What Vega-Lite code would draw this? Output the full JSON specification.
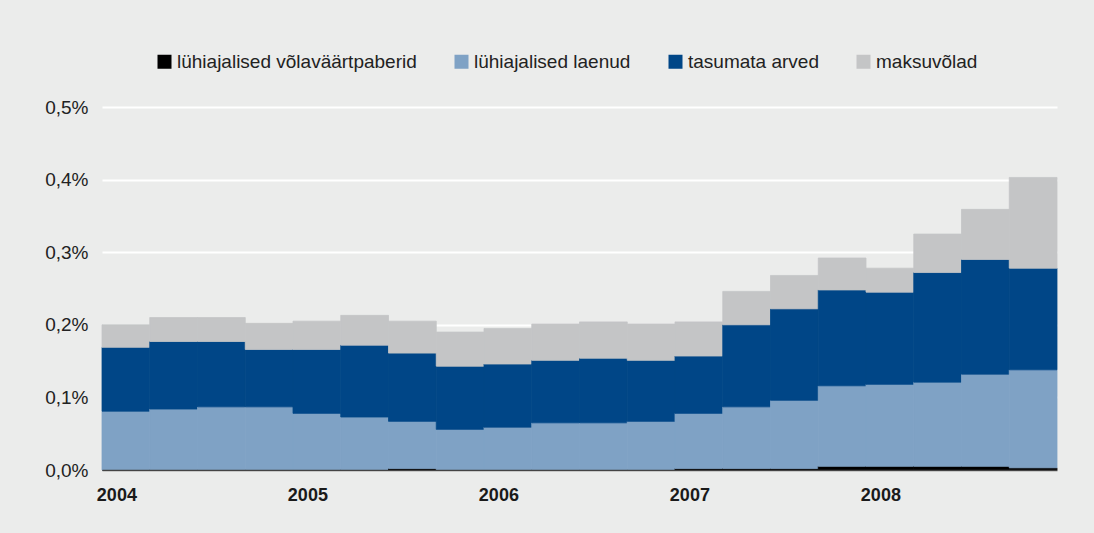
{
  "$schema": "https://vega.github.io/schema/vega-lite/v6.json",
  "width": 955,
  "height": 363,
  "autosize": {"type": "none"},
  "padding": {"left": 102, "top": 107, "right": 37, "bottom": 63},
  "background": "#ebeceb",
  "config": {"view": {"stroke": null}, "font": "Liberation Sans"},
  "data": {"values": [
    {"q": "2004Q1", "lühiajalised võlaväärtpaberid": 0, "lühiajalised laenud": 0.081, "tasumata arved": 0.088, "maksuvõlad": 0.031},
    {"q": "2004Q2", "lühiajalised võlaväärtpaberid": 0, "lühiajalised laenud": 0.084, "tasumata arved": 0.093, "maksuvõlad": 0.033},
    {"q": "2004Q3", "lühiajalised võlaväärtpaberid": 0, "lühiajalised laenud": 0.087, "tasumata arved": 0.090, "maksuvõlad": 0.033},
    {"q": "2004Q4", "lühiajalised võlaväärtpaberid": 0, "lühiajalised laenud": 0.087, "tasumata arved": 0.079, "maksuvõlad": 0.036},
    {"q": "2005Q1", "lühiajalised võlaväärtpaberid": 0, "lühiajalised laenud": 0.078, "tasumata arved": 0.088, "maksuvõlad": 0.039},
    {"q": "2005Q2", "lühiajalised võlaväärtpaberid": 0, "lühiajalised laenud": 0.073, "tasumata arved": 0.099, "maksuvõlad": 0.041},
    {"q": "2005Q3", "lühiajalised võlaväärtpaberid": 0.002, "lühiajalised laenud": 0.065, "tasumata arved": 0.094, "maksuvõlad": 0.044},
    {"q": "2005Q4", "lühiajalised võlaväärtpaberid": 0, "lühiajalised laenud": 0.056, "tasumata arved": 0.087, "maksuvõlad": 0.047},
    {"q": "2006Q1", "lühiajalised võlaväärtpaberid": 0, "lühiajalised laenud": 0.059, "tasumata arved": 0.087, "maksuvõlad": 0.049},
    {"q": "2006Q2", "lühiajalised võlaväärtpaberid": 0, "lühiajalised laenud": 0.065, "tasumata arved": 0.086, "maksuvõlad": 0.050},
    {"q": "2006Q3", "lühiajalised võlaväärtpaberid": 0, "lühiajalised laenud": 0.065, "tasumata arved": 0.089, "maksuvõlad": 0.050},
    {"q": "2006Q4", "lühiajalised võlaväärtpaberid": 0, "lühiajalised laenud": 0.067, "tasumata arved": 0.084, "maksuvõlad": 0.050},
    {"q": "2007Q1", "lühiajalised võlaväärtpaberid": 0.002, "lühiajalised laenud": 0.076, "tasumata arved": 0.079, "maksuvõlad": 0.047},
    {"q": "2007Q2", "lühiajalised võlaväärtpaberid": 0.002, "lühiajalised laenud": 0.085, "tasumata arved": 0.113, "maksuvõlad": 0.046},
    {"q": "2007Q3", "lühiajalised võlaväärtpaberid": 0.002, "lühiajalised laenud": 0.094, "tasumata arved": 0.126, "maksuvõlad": 0.046},
    {"q": "2007Q4", "lühiajalised võlaväärtpaberid": 0.005, "lühiajalised laenud": 0.111, "tasumata arved": 0.132, "maksuvõlad": 0.044},
    {"q": "2008Q1", "lühiajalised võlaväärtpaberid": 0.005, "lühiajalised laenud": 0.113, "tasumata arved": 0.127, "maksuvõlad": 0.033},
    {"q": "2008Q2", "lühiajalised võlaväärtpaberid": 0.005, "lühiajalised laenud": 0.116, "tasumata arved": 0.151, "maksuvõlad": 0.053},
    {"q": "2008Q3", "lühiajalised võlaväärtpaberid": 0.005, "lühiajalised laenud": 0.127, "tasumata arved": 0.158, "maksuvõlad": 0.069},
    {"q": "2008Q4", "lühiajalised võlaväärtpaberid": 0.003, "lühiajalised laenud": 0.135, "tasumata arved": 0.140, "maksuvõlad": 0.125}
  ]},
  "transform": [
    {"fold": ["lühiajalised võlaväärtpaberid", "lühiajalised laenud", "tasumata arved", "maksuvõlad"], "as": ["series", "value"]},
    {"calculate": "indexof(['lühiajalised võlaväärtpaberid', 'lühiajalised laenud', 'tasumata arved', 'maksuvõlad'], datum.series)", "as": "o"}
  ],
  "mark": {"type": "bar", "strokeWidth": 0.8},
  "encoding": {
    "x": {
      "field": "q", "type": "ordinal", "sort": null,
      "scale": {"paddingInner": 0, "paddingOuter": 0},
      "axis": {
        "title": null, "labelAngle": 0, "ticks": false, "grid": false,
        "labelExpr": "substring(datum.value, 4) == 'Q1' ? substring(datum.value, 0, 4) : ''",
        "labelFontWeight": "bold", "labelFontSize": 18, "labelColor": "#1a1a1a",
        "labelPadding": 16, "labelOffset": -9,
        "domainColor": "#444444", "domainWidth": 1.5, "zindex": 1
      }
    },
    "y": {
      "field": "value", "type": "quantitative", "stack": "zero",
      "scale": {"domain": [0, 0.5], "nice": false},
      "axis": {
        "title": null, "values": [0, 0.1, 0.2, 0.3, 0.4, 0.5],
        "labelExpr": "replace(format(datum.value, '.1f'), '.', ',') + '%'",
        "labelFontSize": 19, "labelColor": "#222222", "labelPadding": 14,
        "ticks": false, "domain": false,
        "gridColor": "#ffffff", "gridWidth": 2, "gridOpacity": 1
      }
    },
    "color": {
      "field": "series", "type": "nominal",
      "scale": {
        "domain": ["lühiajalised võlaväärtpaberid", "lühiajalised laenud", "tasumata arved", "maksuvõlad"],
        "range": ["#000000", "#7fa2c5", "#004687", "#c4c5c6"]
      },
      "legend": {
        "orient": "none", "legendX": 53, "legendY": -55, "direction": "horizontal",
        "title": null, "symbolType": "square", "symbolSize": 196, "symbolStrokeWidth": 0,
        "symbolOpacity": 1, "labelFontSize": 19, "labelColor": "#222222", "labelOffset": 3,
        "labelLimit": 400, "columnPadding": 35
      }
    },
    "stroke": {
      "field": "series", "type": "nominal",
      "scale": {
        "domain": ["lühiajalised võlaväärtpaberid", "lühiajalised laenud", "tasumata arved", "maksuvõlad"],
        "range": ["#000000", "#7fa2c5", "#004687", "#c4c5c6"]
      },
      "legend": null
    },
    "order": {"field": "o", "type": "quantitative", "sort": "ascending"}
  }
}
